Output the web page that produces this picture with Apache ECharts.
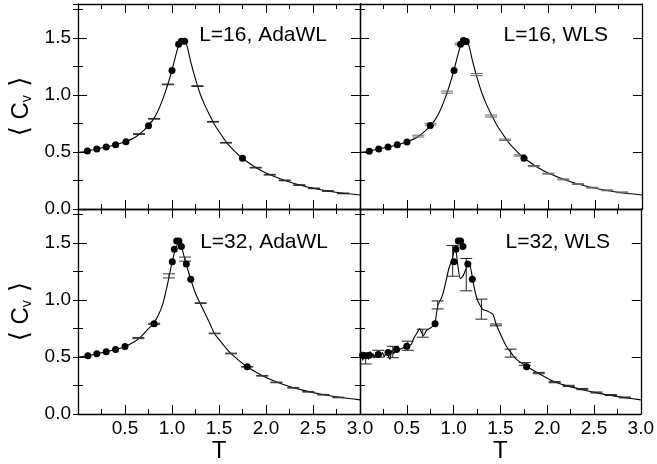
<!DOCTYPE html>
<html>
<head>
<meta charset="utf-8">
<script src="https://cdn.jsdelivr.net/npm/echarts@6/dist/echarts.min.js"></script>
<style>html,body{margin:0;padding:0;background:#fff}#c{width:657px;height:464px}</style>
</head>
<body>
<div id="c"></div>
<script>
// ---------- tick labels ----------
const xTickLabels = ['0.5', '1.0', '1.5', '2.0', '2.5', '3.0'];
const yTickLabels = ['0.0', '0.5', '1.0', '1.5'];
const panelTitles = ['L=16, AdaWL', 'L=16, WLS', 'L=32, AdaWL', 'L=32, WLS'];

// ---------- L=16 curve (shared by both top panels) ----------
const curve16T = [0, 0.1, 0.2, 0.3, 0.4, 0.5, 0.6, 0.65, 0.7, 0.75, 0.8, 0.85, 0.9, 0.95, 1.0, 1.05, 1.08, 1.11, 1.135, 1.16, 1.2, 1.25, 1.3, 1.35, 1.4, 1.45, 1.5, 1.55, 1.6, 1.7, 1.8, 1.9, 2.0, 2.2, 2.4, 2.6, 2.8, 3.0];
const curve16C = [0.495, 0.509, 0.526, 0.544, 0.564, 0.59, 0.625, 0.655, 0.69, 0.735, 0.785, 0.86, 0.96, 1.08, 1.22, 1.38, 1.455, 1.48, 1.475, 1.43, 1.29, 1.14, 1.01, 0.91, 0.825, 0.745, 0.68, 0.62, 0.565, 0.48, 0.415, 0.36, 0.316, 0.251, 0.202, 0.167, 0.14, 0.123];

// ---------- panel A: L=16 AdaWL ----------
const dotsA_T = [0.10, 0.20, 0.30, 0.40, 0.51, 0.75, 1.00, 1.07, 1.10, 1.135, 1.75];
const dotsA_C = [0.509, 0.526, 0.544, 0.564, 0.59, 0.73, 1.216, 1.447, 1.474, 1.474, 0.445];
const errA_T = [0.649, 0.81, 0.957, 1.27, 1.436, 1.574, 1.89, 2.04, 2.20, 2.355, 2.51, 2.66, 2.82];
const errA_C = [0.658, 0.792, 1.094, 1.079, 0.766, 0.582, 0.363, 0.301, 0.251, 0.21, 0.181, 0.158, 0.137];
const errA_E = [0.003, 0.003, 0.003, 0.003, 0.003, 0.003, 0.003, 0.003, 0.003, 0.003, 0.003, 0.003, 0.003];

// ---------- panel B: L=16 WLS ----------
const dotsB_T = [0.099, 0.199, 0.298, 0.397, 0.50, 0.748, 1.0, 1.07, 1.10, 1.13, 1.745];
const dotsB_C = [0.506, 0.526, 0.544, 0.564, 0.588, 0.734, 1.216, 1.447, 1.48, 1.47, 0.445];
const errB_T = [0.62, 0.75, 0.926, 1.07, 1.241, 1.394, 1.543, 1.70, 1.85, 2.003, 2.163, 2.32, 2.47, 2.63, 2.79];
const errB_C = [0.64, 0.745, 1.026, 1.45, 1.18, 0.816, 0.608, 0.47, 0.377, 0.31, 0.26, 0.219, 0.187, 0.164, 0.146];
const errB_E = [0.008, 0.008, 0.009, 0.008, 0.009, 0.009, 0.006, 0.006, 0.005, 0.004, 0.004, 0.004, 0.004, 0.004, 0.004];

// ---------- panel C: L=32 AdaWL ----------
const curveC_T = [0, 0.1, 0.2, 0.3, 0.4, 0.5, 0.6, 0.65, 0.7, 0.75, 0.8, 0.85, 0.9, 0.95, 0.98, 1.0, 1.03, 1.06, 1.08, 1.1, 1.13, 1.15, 1.2, 1.25, 1.3, 1.35, 1.4, 1.45, 1.5, 1.6, 1.7, 1.8, 1.9, 2.0, 2.2, 2.4, 2.6, 2.8, 3.0];
const curveC_C = [0.50, 0.512, 0.529, 0.547, 0.567, 0.594, 0.635, 0.665, 0.705, 0.75, 0.79, 0.86, 0.96, 1.13, 1.25, 1.33, 1.43, 1.49, 1.495, 1.47, 1.38, 1.32, 1.18, 1.06, 0.97, 0.885, 0.80, 0.71, 0.655, 0.555, 0.478, 0.415, 0.365, 0.322, 0.256, 0.208, 0.172, 0.145, 0.125];
const dotsC_T = [0.106, 0.20, 0.30, 0.40, 0.50, 0.81, 1.003, 1.025, 1.05, 1.074, 1.10, 1.152, 1.20, 1.80];
const dotsC_C = [0.512, 0.529, 0.547, 0.567, 0.594, 0.792, 1.336, 1.447, 1.52, 1.52, 1.47, 1.318, 1.184, 0.415];
const errC_T = [0.642, 0.81, 0.968, 1.14, 1.305, 1.454, 1.628, 1.80, 1.96, 2.11, 2.29, 2.45, 2.61, 2.77];
const errC_C = [0.667, 0.792, 1.213, 1.36, 0.974, 0.708, 0.532, 0.415, 0.336, 0.278, 0.231, 0.196, 0.17, 0.146];
const errC_E = [0.005, 0.005, 0.018, 0.018, 0.003, 0.003, 0.003, 0.003, 0.003, 0.003, 0.003, 0.003, 0.003, 0.003];

// ---------- panel D: L=32 WLS ----------
const curveD_T = [0, 0.02, 0.03, 0.05, 0.06, 0.08, 0.09, 0.11, 0.12, 0.14, 0.15, 0.17, 0.19, 0.21, 0.22, 0.24, 0.26, 0.28, 0.30, 0.32, 0.34, 0.36, 0.38, 0.40, 0.43, 0.46, 0.50, 0.55, 0.57, 0.60, 0.638, 0.66, 0.68, 0.71, 0.73, 0.76, 0.80, 0.83, 0.87, 0.90, 0.95, 0.985, 1.018, 1.046, 1.07, 1.10, 1.145, 1.17, 1.19, 1.22, 1.26, 1.31, 1.36, 1.42, 1.45, 1.49, 1.56, 1.66, 1.78, 1.91, 2.06, 2.2, 2.4, 2.6, 2.8, 3.0];
const curveD_C = [0.50, 0.53, 0.47, 0.54, 0.49, 0.53, 0.48, 0.55, 0.50, 0.53, 0.49, 0.54, 0.50, 0.55, 0.51, 0.54, 0.50, 0.55, 0.52, 0.48, 0.56, 0.53, 0.57, 0.55, 0.57, 0.58, 0.59, 0.615, 0.658, 0.70, 0.75, 0.71, 0.69, 0.735, 0.745, 0.76, 0.79, 0.95, 1.02, 1.10, 1.28, 1.36, 1.476, 1.30, 1.19, 1.21, 1.30, 1.32, 1.25, 1.11, 0.99, 0.92, 0.905, 0.875, 0.80, 0.72, 0.60, 0.49, 0.42, 0.357, 0.29, 0.25, 0.21, 0.175, 0.148, 0.125];
const dotsD_T = [0.028, 0.064, 0.099, 0.195, 0.30, 0.39, 0.50, 0.802, 1.003, 1.025, 1.05, 1.074, 1.10, 1.152, 1.20, 1.78];
const dotsD_C = [0.517, 0.512, 0.517, 0.523, 0.54, 0.567, 0.596, 0.792, 1.336, 1.447, 1.52, 1.52, 1.47, 1.318, 1.184, 0.415];
const errD_T = [0.06, 0.195, 0.35, 0.51, 0.67, 0.83, 0.99, 1.135, 1.297, 1.452, 1.61, 1.76, 1.91, 2.08, 2.23, 2.375, 2.525, 2.68, 2.83];
const errD_C = [0.48, 0.53, 0.545, 0.60, 0.71, 0.958, 1.345, 1.224, 0.921, 0.783, 0.535, 0.44, 0.36, 0.28, 0.248, 0.219, 0.19, 0.167, 0.146];
const errD_E = [0.04, 0.03, 0.05, 0.04, 0.035, 0.035, 0.135, 0.142, 0.088, 0.008, 0.035, 0.012, 0.006, 0.005, 0.005, 0.005, 0.004, 0.004, 0.004];

// ---------- build ----------
const FONT = '"Liberation Sans", Arial, Helvetica, sans-serif';
const chart = echarts.init(document.getElementById('c'), null, {renderer: 'canvas'});

const pairs = (a, b) => a.map((v, i) => [v, b[i]]);
const triples = (a, b, c) => a.map((v, i) => [v, b[i], c[i]]);

const grids = [
  {left: 78, top: 4, width: 282, height: 205},
  {left: 360, top: 4, width: 282, height: 205},
  {left: 78, top: 209, width: 282, height: 206},
  {left: 360, top: 209, width: 282, height: 206}
];

function fmtX(v) { const s = v.toFixed(1); return xTickLabels.indexOf(s) >= 0 ? s : ''; }
function fmtY(v) { const s = v.toFixed(1); return yTickLabels.indexOf(s) >= 0 && Math.abs(v - parseFloat(s)) < 1e-6 ? s : ''; }

const xAxes = [], yAxes = [];
const mainX = [], mainY = [];
grids.forEach((g, gi) => {
  const bottomRow = gi >= 2, leftCol = gi % 2 === 0;
  mainX.push(xAxes.length);
  xAxes.push({
    type: 'value', gridIndex: gi, position: 'bottom', min: 0, max: 3, interval: 0.5,
    axisLine: {show: true, onZero: false, lineStyle: {color: '#000', width: 1.3}},
    axisTick: {show: true, inside: true, length: 9, lineStyle: {color: '#000', width: 1}},
    minorTick: {show: true, splitNumber: 2, length: 5, lineStyle: {color: '#000', width: 1}},
    splitLine: {show: false},
    axisLabel: {show: bottomRow, formatter: fmtX, margin: 5, fontSize: 19, color: '#000', fontFamily: FONT},
    name: bottomRow ? 'T' : '', nameLocation: 'middle', nameGap: 17,
    nameTextStyle: {fontSize: 24, color: '#000', fontFamily: FONT}
  });
  xAxes.push({
    type: 'value', gridIndex: gi, position: 'top', min: 0, max: 3, interval: 0.5,
    axisLine: {show: true, onZero: false, lineStyle: {color: '#000', width: 1.3}},
    axisTick: {show: true, inside: true, length: 9, lineStyle: {color: '#000', width: 1}},
    minorTick: {show: true, splitNumber: 2, length: 5, lineStyle: {color: '#000', width: 1}},
    splitLine: {show: false}, axisLabel: {show: false}
  });
  mainY.push(yAxes.length);
  yAxes.push({
    type: 'value', gridIndex: gi, position: 'left', min: 0, max: 1.8, interval: 0.5,
    axisLine: {show: true, onZero: false, lineStyle: {color: '#000', width: 1.3}},
    axisTick: {show: true, inside: true, length: 9, lineStyle: {color: '#000', width: 1}},
    splitLine: {show: false},
    axisLabel: {show: leftCol, formatter: fmtY, margin: 7, fontSize: 19, color: '#000', fontFamily: FONT},
    name: leftCol ? '{b|⟨}{a| C}{s|v}{b| ⟩}' : '', nameLocation: 'middle', nameGap: 44, nameRotate: 90,
    nameTextStyle: {color: '#000', rich: {
      a: {fontSize: 24, fontFamily: FONT, color: '#000'},
      b: {fontSize: 26, fontFamily: '"DejaVu Sans", sans-serif', color: '#000'},
      s: {fontSize: 14, fontFamily: FONT, color: '#000', verticalAlign: 'bottom', padding: [10, 0, 0, 0]}
    }}
  });
  yAxes.push({
    type: 'value', gridIndex: gi, position: 'left', min: 0, max: 1.8, interval: 0.25,
    axisLine: {show: false}, axisTick: {show: true, inside: true, length: 5, lineStyle: {color: '#000', width: 1}},
    splitLine: {show: false}, axisLabel: {show: false}
  });
  yAxes.push({
    type: 'value', gridIndex: gi, position: 'right', min: 0, max: 1.8, interval: 0.5,
    axisLine: {show: true, onZero: false, lineStyle: {color: '#000', width: 1.3}},
    axisTick: {show: true, inside: true, length: 9, lineStyle: {color: '#000', width: 1}},
    splitLine: {show: false}, axisLabel: {show: false}
  });
  yAxes.push({
    type: 'value', gridIndex: gi, position: 'right', min: 0, max: 1.8, interval: 0.25,
    axisLine: {show: false}, axisTick: {show: true, inside: true, length: 5, lineStyle: {color: '#000', width: 1}},
    splitLine: {show: false}, axisLabel: {show: false}
  });
});

function errRender(color) {
  return function (params, api) {
    const x = api.value(0), y = api.value(1), e = api.value(2);
    const lo = api.coord([x, y - e]), hi = api.coord([x, y + e]);
    const w = 6;
    const st = {stroke: color, lineWidth: 1};
    return {type: 'group', children: [
      {type: 'line', shape: {x1: lo[0], y1: lo[1], x2: hi[0], y2: hi[1]}, style: st},
      {type: 'line', shape: {x1: lo[0] - w, y1: lo[1], x2: lo[0] + w, y2: lo[1]}, style: st},
      {type: 'line', shape: {x1: hi[0] - w, y1: hi[1], x2: hi[0] + w, y2: hi[1]}, style: st}
    ]};
  };
}

const panels = [
  {line: pairs(curve16T, curve16C), dots: pairs(dotsA_T, dotsA_C), err: triples(errA_T, errA_C, errA_E), errColor: '#222', smooth: 0.3},
  {line: pairs(curve16T, curve16C), dots: pairs(dotsB_T, dotsB_C), err: triples(errB_T, errB_C, errB_E), errColor: '#666', smooth: 0.3},
  {line: pairs(curveC_T, curveC_C), dots: pairs(dotsC_T, dotsC_C), err: triples(errC_T, errC_C, errC_E), errColor: '#333', smooth: 0.3},
  {line: pairs(curveD_T, curveD_C), dots: pairs(dotsD_T, dotsD_C), err: triples(errD_T, errD_C, errD_E), errColor: '#222', smooth: 0.15}
];

const series = [];
panels.forEach((p, i) => {
  series.push({type: 'line', xAxisIndex: mainX[i], yAxisIndex: mainY[i], data: p.line, showSymbol: false,
    smooth: p.smooth, lineStyle: {color: '#000', width: 1.1}, z: 2, silent: true, animation: false});
  series.push({type: 'custom', xAxisIndex: mainX[i], yAxisIndex: mainY[i], data: p.err,
    renderItem: errRender(p.errColor), z: 3, silent: true, animation: false});
  series.push({type: 'scatter', xAxisIndex: mainX[i], yAxisIndex: mainY[i], data: p.dots,
    symbolSize: 7, itemStyle: {color: '#000', opacity: 1}, z: 4, silent: true, animation: false});
});

const titlePos = [[327, 46], [608, 46], [328, 253], [610, 253]];
const graphic = panelTitles.map((t, i) => ({
  type: 'text', x: titlePos[i][0], y: titlePos[i][1], silent: true,
  style: {text: t, font: '21px ' + FONT, fill: '#000', textAlign: 'right', textVerticalAlign: 'bottom'}
}));

chart.setOption({
  animation: false,
  backgroundColor: '#fff',
  grid: grids,
  xAxis: xAxes,
  yAxis: yAxes,
  series: series,
  graphic: graphic
});
</script>
</body>
</html>
